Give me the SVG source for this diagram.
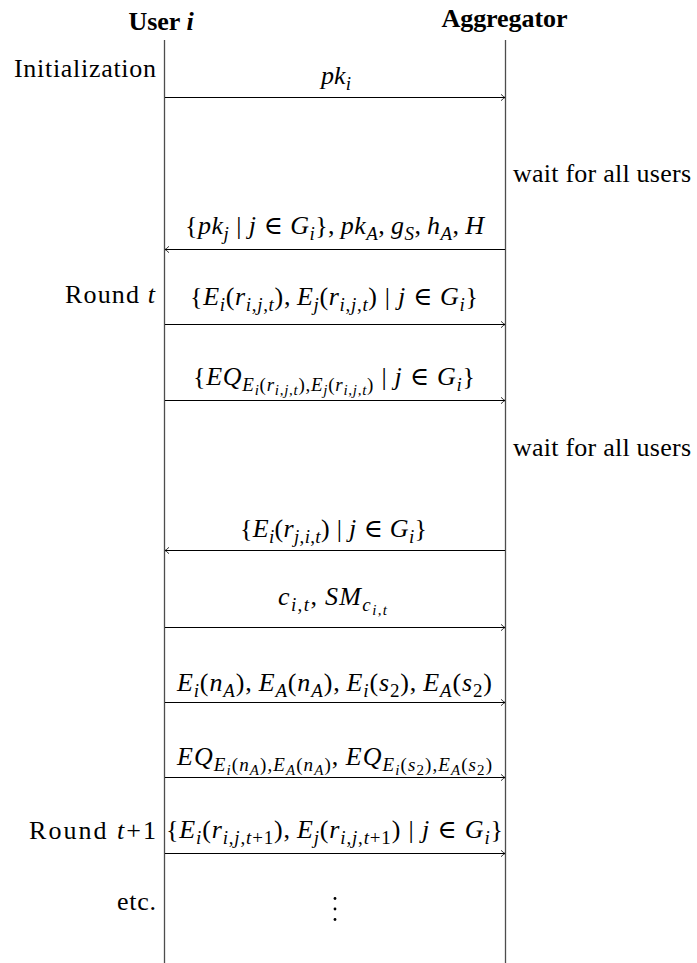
<svg xmlns="http://www.w3.org/2000/svg" width="697" height="963" viewBox="0 0 697 963">
  <style>
    text { font-family: "Liberation Serif", "DejaVu Serif", serif; fill: #000; }
    .hd { font-weight: bold; font-size: 26px; text-anchor: middle; }
    .lb { font-size: 26px; }
    .rt { text-anchor: end; }
    .m { font-size: 26px; text-anchor: middle; }
    .it { font-style: italic; }
    .sub { font-size: 19px; baseline-shift: -6px; }
    .ss { font-size: 15px; baseline-shift: -4px; }
    .life { stroke: #4d4d4d; stroke-width: 1.3; fill: none; }
    .msg { stroke: #000; stroke-width: 1; fill: none; marker-end: url(#head); }
  </style>
  <defs>
    <marker id="head" markerUnits="userSpaceOnUse" markerWidth="10" markerHeight="10" viewBox="-6 -5 8 10" refX="0" refY="0" orient="auto">
      <path d="M-4,-3.2 Q-1.5,-0.8 0,0 Q-1.5,0.8 -4,3.2" fill="none" stroke="#000" stroke-width="0.8"/>
    </marker>
  </defs>
  <rect width="697" height="963" fill="#fff"/>

  <!-- participants -->
  <g id="user">
    <text class="hd" x="161" y="30">User <tspan class="it">i</tspan></text>
    <line class="life" x1="164.5" y1="40" x2="164.5" y2="963"/>
  </g>
  <g id="aggregator">
    <text class="hd" x="504.5" y="27" textLength="126">Aggregator</text>
    <line class="life" x1="505.5" y1="40" x2="505.5" y2="963"/>
  </g>

  <!-- phase labels and notes -->
  <g id="phase-init"><text class="lb rt" x="156" y="77" textLength="142">Initialization</text></g>
  <g id="note-wait-1"><text class="lb" x="513" y="182" textLength="178">wait for all users</text></g>
  <g id="phase-round-t"><text class="lb rt" x="155" y="303" textLength="90">Round <tspan class="it">t</tspan></text></g>
  <g id="note-wait-2"><text class="lb" x="513" y="456" textLength="178">wait for all users</text></g>
  <g id="phase-round-t1"><text class="lb rt" x="156" y="839" textLength="127">Round <tspan class="it">t</tspan>+1</text></g>
  <g id="phase-etc"><text class="lb rt" x="156" y="910" textLength="39">etc.</text></g>

  <!-- messages -->
  <g id="connectors">
    <line class="msg" x1="165" y1="97.5" x2="505" y2="97.5"/>
    <line class="msg" x1="505" y1="249.5" x2="165" y2="249.5"/>
    <line class="msg" x1="165" y1="324.5" x2="505" y2="324.5"/>
    <line class="msg" x1="165" y1="400.5" x2="505" y2="400.5"/>
    <line class="msg" x1="505" y1="550.5" x2="165" y2="550.5"/>
    <line class="msg" x1="165" y1="627.5" x2="505" y2="627.5"/>
    <line class="msg" x1="165" y1="702.5" x2="505" y2="702.5"/>
    <line class="msg" x1="165" y1="777.5" x2="505" y2="777.5"/>
    <line class="msg" x1="165" y1="853.5" x2="505" y2="853.5"/>
  </g>

  <!-- message labels -->
  <g id="msg-pk">
    <text class="m" x="336" y="84"><tspan class="it">pk</tspan><tspan class="sub it">i</tspan></text>
  </g>
  <g id="msg-keys">
    <text class="m" x="334.5" y="234" textLength="299">{<tspan class="it">pk</tspan><tspan class="sub it">j</tspan> | <tspan class="it">j</tspan> ∈ <tspan class="it">G</tspan><tspan class="sub it">i</tspan>},&#8201;<tspan class="it">pk</tspan><tspan class="sub it">A</tspan>,&#8201;<tspan class="it">g</tspan><tspan class="sub it">S</tspan>,&#8201;<tspan class="it">h</tspan><tspan class="sub it">A</tspan>,&#8201;<tspan class="it">H</tspan></text>
  </g>
  <g id="msg-enc">
    <text class="m" x="334" y="305" textLength="288">{<tspan class="it">E</tspan><tspan class="sub it">i</tspan>(<tspan class="it">r</tspan><tspan class="sub"><tspan class="it">i</tspan>,<tspan class="it">j</tspan>,<tspan class="it">t</tspan></tspan>),&#8201;<tspan class="it">E</tspan><tspan class="sub it">j</tspan>(<tspan class="it">r</tspan><tspan class="sub"><tspan class="it">i</tspan>,<tspan class="it">j</tspan>,<tspan class="it">t</tspan></tspan>) | <tspan class="it">j</tspan> ∈ <tspan class="it">G</tspan><tspan class="sub it">i</tspan>}</text>
  </g>
  <g id="msg-eq">
    <text class="m" x="334" y="385" textLength="282">{<tspan class="it">EQ</tspan><tspan class="sub"><tspan class="it">E</tspan><tspan class="ss it">i</tspan>(<tspan class="it">r</tspan><tspan class="ss"><tspan class="it">i</tspan>,<tspan class="it">j</tspan>,<tspan class="it">t</tspan></tspan>),<tspan class="it">E</tspan><tspan class="ss it">j</tspan>(<tspan class="it">r</tspan><tspan class="ss"><tspan class="it">i</tspan>,<tspan class="it">j</tspan>,<tspan class="it">t</tspan></tspan>)</tspan> | <tspan class="it">j</tspan> ∈ <tspan class="it">G</tspan><tspan class="sub it">i</tspan>}</text>
  </g>
  <g id="msg-return">
    <text class="m" x="333.5" y="537" textLength="187">{<tspan class="it">E</tspan><tspan class="sub it">i</tspan>(<tspan class="it">r</tspan><tspan class="sub"><tspan class="it">j</tspan>,<tspan class="it">i</tspan>,<tspan class="it">t</tspan></tspan>) | <tspan class="it">j</tspan> ∈ <tspan class="it">G</tspan><tspan class="sub it">i</tspan>}</text>
  </g>
  <g id="msg-commit">
    <text class="m" x="332.5" y="605" textLength="109"><tspan class="it">c</tspan><tspan class="sub"><tspan class="it">i</tspan>,<tspan class="it">t</tspan></tspan>,&#8201;<tspan class="it">SM</tspan><tspan class="sub"><tspan class="it">c</tspan><tspan class="ss"><tspan class="it">i</tspan>,<tspan class="it">t</tspan></tspan></tspan></text>
  </g>
  <g id="msg-nonce">
    <text class="m" x="334.5" y="691" textLength="315"><tspan class="it">E</tspan><tspan class="sub it">i</tspan>(<tspan class="it">n</tspan><tspan class="sub it">A</tspan>),&#8201;<tspan class="it">E</tspan><tspan class="sub it">A</tspan>(<tspan class="it">n</tspan><tspan class="sub it">A</tspan>),&#8201;<tspan class="it">E</tspan><tspan class="sub it">i</tspan>(<tspan class="it">s</tspan><tspan class="sub">2</tspan>),&#8201;<tspan class="it">E</tspan><tspan class="sub it">A</tspan>(<tspan class="it">s</tspan><tspan class="sub">2</tspan>)</text>
  </g>
  <g id="msg-eqproof">
    <text class="m" x="334.5" y="765" textLength="315"><tspan class="it">EQ</tspan><tspan class="sub"><tspan class="it">E</tspan><tspan class="ss it">i</tspan>(<tspan class="it">n</tspan><tspan class="ss it">A</tspan>),<tspan class="it">E</tspan><tspan class="ss it">A</tspan>(<tspan class="it">n</tspan><tspan class="ss it">A</tspan>)</tspan>,&#8201;<tspan class="it">EQ</tspan><tspan class="sub"><tspan class="it">E</tspan><tspan class="ss it">i</tspan>(<tspan class="it">s</tspan><tspan class="ss">2</tspan>),<tspan class="it">E</tspan><tspan class="ss it">A</tspan>(<tspan class="it">s</tspan><tspan class="ss">2</tspan>)</tspan></text>
  </g>
  <g id="msg-enc-next">
    <text class="m" x="334.5" y="838" textLength="337">{<tspan class="it">E</tspan><tspan class="sub it">i</tspan>(<tspan class="it">r</tspan><tspan class="sub"><tspan class="it">i</tspan>,<tspan class="it">j</tspan>,<tspan class="it">t</tspan>+1</tspan>),&#8201;<tspan class="it">E</tspan><tspan class="sub it">j</tspan>(<tspan class="it">r</tspan><tspan class="sub"><tspan class="it">i</tspan>,<tspan class="it">j</tspan>,<tspan class="it">t</tspan>+1</tspan>) | <tspan class="it">j</tspan> ∈ <tspan class="it">G</tspan><tspan class="sub it">i</tspan>}</text>
  </g>

  <!-- continuation dots -->
  <g id="ellipsis" fill="#000">
    <circle cx="335" cy="898.5" r="1.4"/>
    <circle cx="335" cy="909" r="1.4"/>
    <circle cx="335" cy="919.5" r="1.4"/>
  </g>
</svg>
